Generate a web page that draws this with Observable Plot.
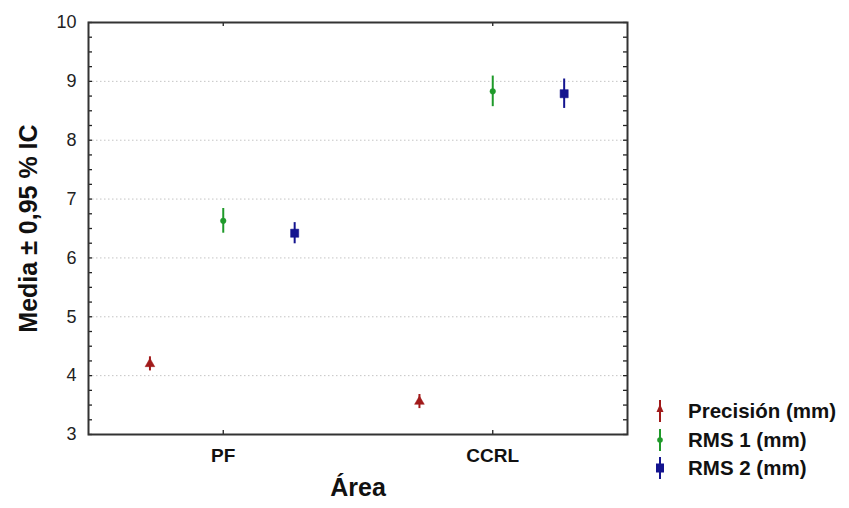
<!DOCTYPE html>
<html>
<head>
<meta charset="utf-8">
<script src="https://cdn.jsdelivr.net/npm/d3@7"></script>
<script src="https://cdn.jsdelivr.net/npm/@observablehq/plot@0.6"></script>
<style>
  html, body { margin: 0; padding: 0; background: #fff; }
  #wrap { position: relative; width: 849px; height: 508px; font-family: "Liberation Sans", Arial, sans-serif; }
  #legend { position: absolute; left: 654px; top: 397px; }
  .row { display: flex; align-items: center; height: 28.5px; }
  .row span { font-weight: bold; font-size: 20.5px; margin-left: 22px; color: #111; }
</style>
</head>
<body>
<div id="wrap"><div id="legend"></div></div>
<script>
const categories = ["PF", "CCRL"];
const series = ["Precisión (mm)", "RMS 1 (mm)", "RMS 2 (mm)"];
const colors = ["#a11a1a", "#1f9a2a", "#14148f"];
const precisionMean = [4.20, 3.56];
const precisionCI = [0.12, 0.12];
const rms1Mean = [6.63, 8.83];
const rms1CI = [0.21, 0.26];
const rms2Mean = [6.42, 8.79];
const rms2CI = [0.18, 0.25];
const yTicks = [3, 4, 5, 6, 7, 8, 9, 10];

const offsets = [-0.272, 0, 0.265];
const means = [precisionMean, rms1Mean, rms2Mean];
const cis = [precisionCI, rms1CI, rms2CI];
const rows = [];
series.forEach((s, si) => categories.forEach((c, ci) => {
  rows.push({series: s, cat: c, x: ci + 0.5 + offsets[si], mean: means[si][ci], lo: means[si][ci] - cis[si][ci], hi: means[si][ci] + cis[si][ci]});
}));
const minorTicks = d3.range(3, 10.001, 0.25);
const W = 849, H = 508, mL = 88, mR = 222, mT = 22, mB = 74;
const fw = W - mL - mR, fh = H - mT - mB;

const chart = Plot.plot({
  width: W, height: H,
  marginLeft: mL, marginRight: mR, marginTop: mT, marginBottom: mB,
  style: {fontFamily: "Liberation Sans, Arial, sans-serif", background: "#fff", overflow: "visible"},
  x: {domain: [0, 2]},
  y: {domain: [3, 10]},
  color: {domain: series, range: colors},
  symbol: {domain: series, range: ["triangle", "circle", "square"]},
  marks: [
    Plot.gridY(yTicks.slice(1, -1), {stroke: "#c4c4c4", strokeOpacity: 1, strokeDasharray: "1.5,2.5"}),
    Plot.tickY(minorTicks, {y: d => d, insetRight: fw - 4, stroke: "#222", strokeWidth: 1.3}),
    Plot.tickY(minorTicks, {y: d => d, insetLeft: fw - 4, stroke: "#222", strokeWidth: 1.3}),
    Plot.tickX([0.5, 1.5], {x: d => d, insetTop: fh - 4, stroke: "#222", strokeWidth: 1.3}),
    Plot.tickX([0.5, 1.5], {x: d => d, insetBottom: fh - 4, stroke: "#222", strokeWidth: 1.3}),
    Plot.frame({stroke: "#333", strokeWidth: 2}),
    Plot.axisY(yTicks, {tickSize: 0, tickPadding: 12, fontSize: 18, label: null, fill: "#222", tickFormat: d => String(d)}),
    Plot.axisX([0.5, 1.5], {tickSize: 0, tickPadding: 14, fontSize: 19, fontWeight: "bold", label: null, tickFormat: d => categories[Math.floor(d)], fill: "#111"}),
    Plot.ruleX(rows, {x: "x", y1: "lo", y2: "hi", stroke: "series", strokeWidth: 2}),
    Plot.dot(rows.filter(d => d.series === series[0]), {x: "x", y: "mean", symbol: "series", fill: "series", stroke: "series", r: 3.6, strokeWidth: 0.5}),
    Plot.dot(rows.filter(d => d.series === series[1]), {x: "x", y: "mean", symbol: "series", fill: "series", stroke: "series", r: 2.8, strokeWidth: 0.5}),
    Plot.dot(rows.filter(d => d.series === series[2]), {x: "x", y: "mean", symbol: "series", fill: "series", stroke: "series", r: 4.6, strokeWidth: 0.5}),
    Plot.text(["Media ± 0,95 % IC"], {text: d => d, frameAnchor: "left", textAnchor: "middle", dx: -60, rotate: -90, fontSize: 25, fontWeight: "bold", fill: "#111"}),
    Plot.text(["Área"], {text: d => d, frameAnchor: "bottom", dy: 61, fontSize: 25, fontWeight: "bold", fill: "#111"})
  ]
});
document.getElementById("wrap").prepend(chart);

const legend = document.getElementById("legend");
const symPaths = [
  '<path d="M6,6 L9.5,14 L2.5,14 Z" />',
  '<circle cx="6" cy="13" r="2.8" />',
  '<rect x="2" y="8.5" width="8" height="9" />'
];
series.forEach((s, i) => {
  const row = document.createElement("div");
  row.className = "row";
  row.innerHTML = `<svg width="12" height="26" viewBox="0 0 12 26"><line x1="6" x2="6" y1="2" y2="24" stroke="${colors[i]}" stroke-width="2"/><g fill="${colors[i]}">${symPaths[i]}</g></svg><span>${s}</span>`;
  legend.appendChild(row);
});
</script>
</body>
</html>
